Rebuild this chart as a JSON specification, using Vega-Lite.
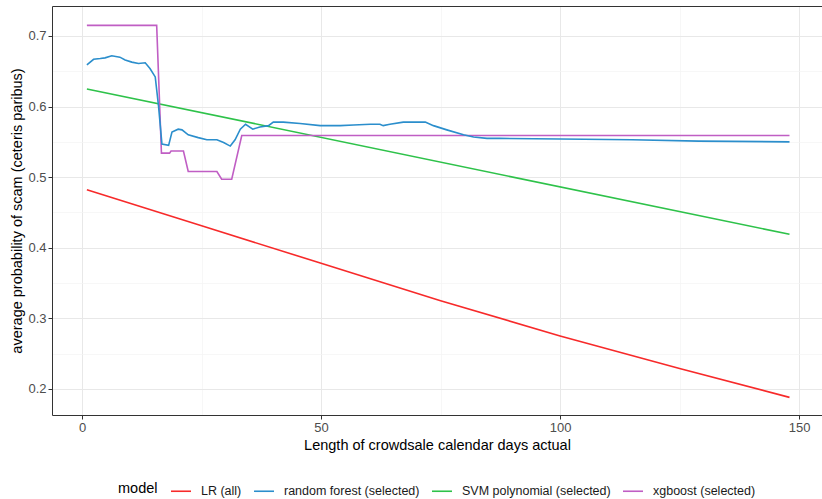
{
  "$schema": "https://vega.github.io/schema/vega-lite/v6.json",
  "width": 770,
  "height": 409,
  "autosize": {"type": "none"},
  "padding": {"left": 52, "top": 6, "right": 0, "bottom": 84},
  "background": "white",
  "config": {
    "font": "Liberation Sans",
    "view": {"stroke": null},
    "axis": {
      "domainColor": "#333333",
      "domainWidth": 1,
      "tickColor": "#333333",
      "tickSize": 4,
      "labelColor": "#4d4d4d",
      "labelFontSize": 13,
      "titleColor": "#000000",
      "titleFontSize": 14.5,
      "titleFontWeight": "normal"
    }
  },
  "data": {
    "values": [
      {"model": "LR (all)", "days": 1, "p": 0.482},
      {"model": "LR (all)", "days": 25, "p": 0.431},
      {"model": "LR (all)", "days": 50, "p": 0.378},
      {"model": "LR (all)", "days": 75, "p": 0.325},
      {"model": "LR (all)", "days": 100, "p": 0.275},
      {"model": "LR (all)", "days": 125, "p": 0.229},
      {"model": "LR (all)", "days": 148, "p": 0.188},
      {"model": "SVM polynomial (selected)", "days": 1, "p": 0.625},
      {"model": "SVM polynomial (selected)", "days": 148, "p": 0.419},
      {"model": "xgboost (selected)", "days": 1, "p": 0.715},
      {"model": "xgboost (selected)", "days": 15.6, "p": 0.715},
      {"model": "xgboost (selected)", "days": 16.6, "p": 0.534},
      {"model": "xgboost (selected)", "days": 18.3, "p": 0.534},
      {"model": "xgboost (selected)", "days": 18.6, "p": 0.537},
      {"model": "xgboost (selected)", "days": 21.2, "p": 0.537},
      {"model": "xgboost (selected)", "days": 22.2, "p": 0.508},
      {"model": "xgboost (selected)", "days": 28.2, "p": 0.508},
      {"model": "xgboost (selected)", "days": 29.2, "p": 0.497},
      {"model": "xgboost (selected)", "days": 31.3, "p": 0.497},
      {"model": "xgboost (selected)", "days": 33.4, "p": 0.559},
      {"model": "xgboost (selected)", "days": 148, "p": 0.559},
      {"model": "random forest (selected)", "days": 1, "p": 0.659},
      {"model": "random forest (selected)", "days": 2.4, "p": 0.667},
      {"model": "random forest (selected)", "days": 3.8, "p": 0.668},
      {"model": "random forest (selected)", "days": 4.8, "p": 0.669},
      {"model": "random forest (selected)", "days": 6.2, "p": 0.672},
      {"model": "random forest (selected)", "days": 7.9, "p": 0.670},
      {"model": "random forest (selected)", "days": 9.0, "p": 0.666},
      {"model": "random forest (selected)", "days": 10.4, "p": 0.663},
      {"model": "random forest (selected)", "days": 11.8, "p": 0.661},
      {"model": "random forest (selected)", "days": 13.2, "p": 0.662},
      {"model": "random forest (selected)", "days": 14.2, "p": 0.654},
      {"model": "random forest (selected)", "days": 15.3, "p": 0.642},
      {"model": "random forest (selected)", "days": 16.0, "p": 0.600},
      {"model": "random forest (selected)", "days": 16.7, "p": 0.547},
      {"model": "random forest (selected)", "days": 18.1, "p": 0.545},
      {"model": "random forest (selected)", "days": 18.8, "p": 0.564},
      {"model": "random forest (selected)", "days": 20.1, "p": 0.568},
      {"model": "random forest (selected)", "days": 20.9, "p": 0.567},
      {"model": "random forest (selected)", "days": 22.2, "p": 0.560},
      {"model": "random forest (selected)", "days": 24.3, "p": 0.556},
      {"model": "random forest (selected)", "days": 26.1, "p": 0.553},
      {"model": "random forest (selected)", "days": 28.2, "p": 0.553},
      {"model": "random forest (selected)", "days": 29.6, "p": 0.549},
      {"model": "random forest (selected)", "days": 31.0, "p": 0.544},
      {"model": "random forest (selected)", "days": 32.0, "p": 0.553},
      {"model": "random forest (selected)", "days": 33.1, "p": 0.568},
      {"model": "random forest (selected)", "days": 34.2, "p": 0.575},
      {"model": "random forest (selected)", "days": 35.7, "p": 0.568},
      {"model": "random forest (selected)", "days": 37.2, "p": 0.571},
      {"model": "random forest (selected)", "days": 39.0, "p": 0.573},
      {"model": "random forest (selected)", "days": 40.0, "p": 0.578},
      {"model": "random forest (selected)", "days": 42.1, "p": 0.578},
      {"model": "random forest (selected)", "days": 45.6, "p": 0.576},
      {"model": "random forest (selected)", "days": 49.8, "p": 0.573},
      {"model": "random forest (selected)", "days": 54.0, "p": 0.573},
      {"model": "random forest (selected)", "days": 56.8, "p": 0.574},
      {"model": "random forest (selected)", "days": 60.3, "p": 0.575},
      {"model": "random forest (selected)", "days": 62.3, "p": 0.575},
      {"model": "random forest (selected)", "days": 63.0, "p": 0.573},
      {"model": "random forest (selected)", "days": 64.4, "p": 0.575},
      {"model": "random forest (selected)", "days": 67.2, "p": 0.578},
      {"model": "random forest (selected)", "days": 71.8, "p": 0.578},
      {"model": "random forest (selected)", "days": 73.5, "p": 0.573},
      {"model": "random forest (selected)", "days": 76.3, "p": 0.567},
      {"model": "random forest (selected)", "days": 79.8, "p": 0.560},
      {"model": "random forest (selected)", "days": 81.9, "p": 0.557},
      {"model": "random forest (selected)", "days": 84.7, "p": 0.555},
      {"model": "random forest (selected)", "days": 87.4, "p": 0.555},
      {"model": "random forest (selected)", "days": 100, "p": 0.554},
      {"model": "random forest (selected)", "days": 115, "p": 0.553},
      {"model": "random forest (selected)", "days": 129, "p": 0.551},
      {"model": "random forest (selected)", "days": 148, "p": 0.550}
    ]
  },
  "layer": [
    {
      "mark": {"type": "line", "strokeWidth": 1.6, "clip": true},
      "encoding": {
        "x": {
          "field": "days", "type": "quantitative",
          "scale": {"domain": [-6.3, 154.8], "nice": false, "zero": false},
          "axis": {
            "orient": "bottom",
            "title": "Length of crowdsale calendar days actual",
            "values": [0, 25, 50, 75, 100, 125, 150],
            "labelExpr": "datum.value % 50 === 0 ? datum.label : ''",
            "tickColor": {"condition": {"test": "datum.value % 50 !== 0", "value": "transparent"}, "value": "#333333"},
            "grid": true,
            "gridColor": {"condition": {"test": "datum.value % 50 !== 0", "value": "#f4f4f4"}, "value": "#e8e8e8"},
            "gridWidth": {"condition": {"test": "datum.value % 50 !== 0", "value": 0.7}, "value": 1},
            "labelPadding": 2,
            "titlePadding": 4
          }
        },
        "y": {
          "field": "p", "type": "quantitative",
          "scale": {"domain": [0.163, 0.7425], "nice": false, "zero": false},
          "axis": {
            "orient": "left",
            "title": "average probability of scam (ceteris paribus)",
            "values": [0.2, 0.25, 0.3, 0.35, 0.4, 0.45, 0.5, 0.55, 0.6, 0.65, 0.7],
            "labelExpr": "abs(datum.value * 10 - round(datum.value * 10)) < 0.01 ? format(datum.value, '.1f') : ''",
            "tickColor": {"condition": {"test": "abs(datum.value * 10 - round(datum.value * 10)) > 0.01", "value": "transparent"}, "value": "#333333"},
            "grid": true,
            "gridColor": {"condition": {"test": "abs(datum.value * 10 - round(datum.value * 10)) > 0.01", "value": "#f4f4f4"}, "value": "#e8e8e8"},
            "gridWidth": {"condition": {"test": "abs(datum.value * 10 - round(datum.value * 10)) > 0.01", "value": 0.7}, "value": 1},
            "labelPadding": 2,
            "titlePadding": 3
          }
        },
        "color": {
          "field": "model", "type": "nominal",
          "scale": {
            "domain": ["LR (all)", "random forest (selected)", "SVM polynomial (selected)", "xgboost (selected)"],
            "range": ["#f72a2a", "#2b8ecc", "#2ec24a", "#c05ec4"]
          },
          "legend": {
            "orient": "none",
            "legendX": 66,
            "legendY": 474,
            "direction": "horizontal",
            "title": "model",
            "titleOrient": "left",
            "titleFontSize": 14.5,
            "titleFontWeight": "normal",
            "titleColor": "#000000",
            "titlePadding": 12,
            "labelFontSize": 12.5,
            "labelColor": "#1a1a1a",
            "symbolType": "stroke",
            "symbolSize": 400,
            "symbolStrokeWidth": 1.6,
            "labelOffset": 9,
            "columnPadding": 8
          }
        }
      }
    },
    {
      "mark": {"type": "line", "opacity": 0, "clip": true},
      "encoding": {
        "x": {
          "field": "days", "type": "quantitative",
          "axis": {"orient": "top", "title": null, "labels": false, "ticks": false, "grid": false}
        },
        "y": {"field": "p", "type": "quantitative"},
        "color": {"field": "model", "type": "nominal"}
      }
    }
  ]
}
